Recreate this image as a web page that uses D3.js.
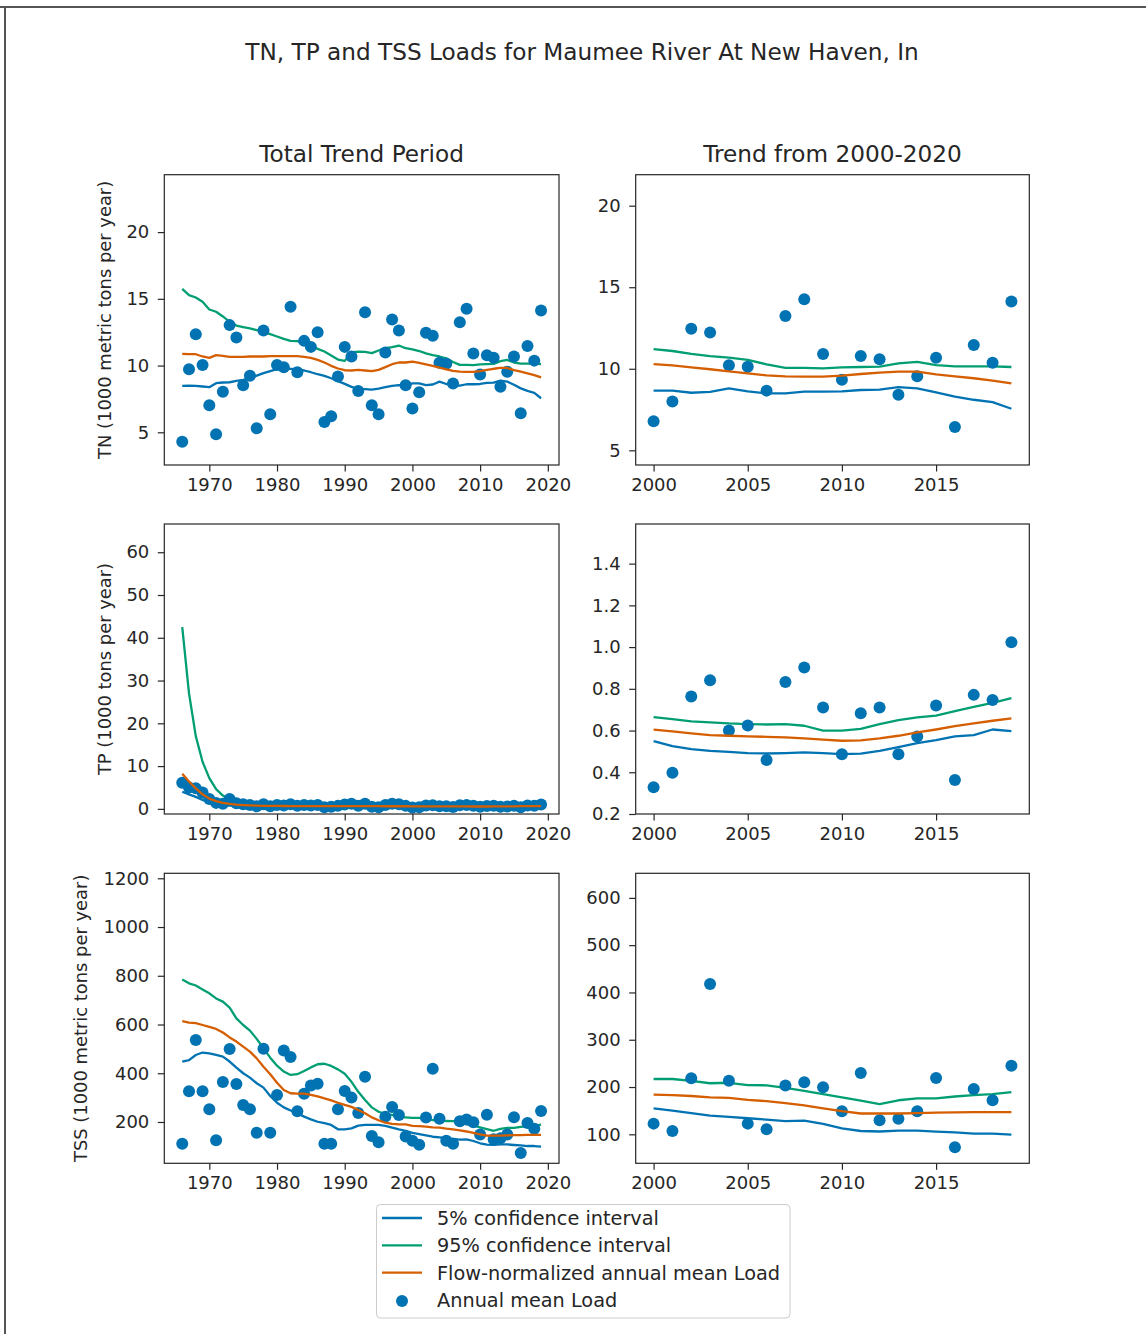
<!DOCTYPE html>
<html>
<head>
<meta charset="utf-8">
<script src="https://cdn.jsdelivr.net/npm/d3@7"></script>
<style>
  body { margin: 0; background: #fff; }
  svg { display: block; }
  text { font-family: "DejaVu Sans", sans-serif; fill: #262626; }
</style>
</head>
<body>
<svg id="chart" width="1146" height="1334"></svg>
<script>
// ---- Data: annual values, Maumee River at New Haven, IN ----
const years = [1966, 1967, 1968, 1969, 1970, 1971, 1972, 1973, 1974, 1975, 1976, 1977, 1978, 1979,
  1980, 1981, 1982, 1983, 1984, 1985, 1986, 1987, 1988, 1989, 1990, 1991, 1992, 1993, 1994, 1995,
  1996, 1997, 1998, 1999, 2000, 2001, 2002, 2003, 2004, 2005, 2006, 2007, 2008, 2009, 2010, 2011,
  2012, 2013, 2014, 2015, 2016, 2017, 2018, 2019];

// TN, 1000 metric tons per year
const tnAnnual = [4.3, 9.73, 12.35, 10.05, 7.03, 4.85, 8.03, 13.03, 12.1, 8.53, 9.23, 5.3, 12.63, 6.35,
  10.05, 9.88, 14.4, 9.5, 11.85, 11.4, 12.5, 5.78, 6.2, 9.18, 11.4, 10.68, 8.1, 14.0, 7.03, 6.35,
  10.98, 13.45, 12.63, 8.53, 6.78, 8.0, 12.46, 12.23, 10.21, 10.13, 8.66, 13.24, 14.26, 10.9, 9.33, 10.78,
  10.58, 8.41, 9.54, 10.68, 6.43, 11.46, 10.37, 14.13];
const tnLow = [8.48, 8.5, 8.48, 8.43, 8.38, 8.68, 8.73, 8.75, 8.85, 8.93, 9.05, 9.25, 9.43, 9.58,
  9.73, 9.75, 9.75, 9.73, 9.63, 9.5, 9.35, 9.23, 9.05, 8.83, 8.63, 8.4, 8.25, 8.23, 8.2, 8.28,
  8.38, 8.48, 8.53, 8.5, 8.66, 8.66, 8.53, 8.58, 8.8, 8.62, 8.49, 8.49, 8.6, 8.6, 8.62, 8.7,
  8.72, 8.88, 8.8, 8.56, 8.29, 8.1, 7.96, 7.55];
const tnHigh = [15.75, 15.28, 15.1, 14.78, 14.2, 14.03, 13.68, 13.28, 13.0, 12.88, 12.78, 12.65, 12.5, 12.35,
  12.18, 12.0, 11.85, 11.83, 11.68, 11.5, 11.25, 11.05, 10.75, 10.45, 10.35, 10.98, 11.05, 11.03, 10.93, 11.13,
  11.3, 11.38, 11.5, 11.3, 11.21, 11.09, 10.91, 10.78, 10.68, 10.54, 10.27, 10.05, 10.05, 10.03, 10.09, 10.11,
  10.13, 10.33, 10.42, 10.23, 10.15, 10.15, 10.15, 10.11];
const tnFlowNorm = [10.88, 10.85, 10.85, 10.68, 10.58, 10.78, 10.73, 10.65, 10.65, 10.65, 10.68, 10.68, 10.68, 10.7,
  10.7, 10.7, 10.7, 10.7, 10.65, 10.58, 10.43, 10.23, 9.98, 9.78, 9.65, 9.63, 9.68, 9.63, 9.58, 9.68,
  9.88, 10.1, 10.23, 10.23, 10.29, 10.21, 10.09, 9.97, 9.84, 9.72, 9.6, 9.54, 9.52, 9.52, 9.58, 9.68,
  9.76, 9.82, 9.82, 9.66, 9.54, 9.42, 9.28, 9.11];

// TP, 1000 tons per year
const tpAnnual = [6.1, 5.0, 4.8, 3.8, 2.3, 1.4, 1.2, 2.3, 1.3, 1.1, 0.9, 0.6, 1.1, 0.6,
  0.9, 0.8, 1.1, 0.7, 0.9, 0.8, 0.9, 0.4, 0.5, 0.7, 1.0, 1.2, 0.7, 1.2, 0.5, 0.4,
  0.9, 1.2, 1.1, 0.7, 0.328, 0.398, 0.763, 0.841, 0.60, 0.624, 0.459, 0.833, 0.902, 0.711, 0.486, 0.683,
  0.711, 0.486, 0.572, 0.72, 0.363, 0.771, 0.746, 1.023];
const tpLow = [4.0, 3.4, 2.8, 2.1, 1.5, 1.1, 0.9, 0.75, 0.68, 0.62, 0.6, 0.58, 0.58, 0.57,
  0.57, 0.57, 0.56, 0.56, 0.56, 0.56, 0.56, 0.55, 0.55, 0.55, 0.55, 0.55, 0.55, 0.55, 0.55, 0.55,
  0.55, 0.55, 0.55, 0.55, 0.549, 0.525, 0.511, 0.503, 0.498, 0.492, 0.49, 0.492, 0.495, 0.492, 0.487, 0.489,
  0.503, 0.521, 0.54, 0.554, 0.572, 0.578, 0.605, 0.597];
const tpHigh = [42.5, 27.0, 17.0, 11.0, 7.2, 4.6, 3.1, 2.2, 1.6, 1.25, 1.05, 0.92, 0.85, 0.8,
  0.77, 0.75, 0.74, 0.73, 0.72, 0.72, 0.71, 0.71, 0.7, 0.7, 0.7, 0.69, 0.69, 0.69, 0.68, 0.68,
  0.68, 0.68, 0.67, 0.67, 0.664, 0.655, 0.644, 0.639, 0.634, 0.631, 0.629, 0.631, 0.623, 0.6, 0.6, 0.608,
  0.631, 0.65, 0.663, 0.672, 0.693, 0.714, 0.733, 0.755];
const tpFlowNorm = [8.2, 6.4, 4.8, 3.4, 2.4, 1.8, 1.4, 1.15, 0.98, 0.88, 0.8, 0.75, 0.72, 0.7,
  0.68, 0.67, 0.66, 0.65, 0.65, 0.64, 0.64, 0.63, 0.63, 0.63, 0.62, 0.62, 0.62, 0.62, 0.62, 0.62,
  0.61, 0.61, 0.61, 0.61, 0.604, 0.596, 0.586, 0.578, 0.575, 0.572, 0.57, 0.567, 0.562, 0.556, 0.551, 0.553,
  0.562, 0.575, 0.591, 0.605, 0.621, 0.634, 0.647, 0.658];

// TSS, 1000 metric tons per year
const tssAnnual = [111, 326, 536, 326, 252, 125, 364, 500, 356, 270, 252, 156, 501, 156,
  311, 493, 467, 244, 316, 350, 357, 111, 111, 252, 327, 300, 237, 386, 143, 117,
  222, 262, 229, 140, 122.6, 107, 218.5, 418, 213.5, 122.6, 110.6, 203, 210, 199.4, 148.7, 229.8,
  129.6, 133, 148.7, 219, 72.5, 196, 172, 245];
const tssLow = [448, 454, 475, 485, 482, 475, 468, 448, 423, 400, 382, 359, 341, 307,
  279, 260, 247, 236, 222, 211, 201, 195, 188, 170, 170, 174, 185, 188, 188, 188,
  184, 177, 170, 164, 155, 150, 145, 139.5, 136.7, 134, 131, 128, 129, 122, 112.7, 107,
  106, 107.8, 107.8, 105.6, 104, 101.4, 101.4, 99.3];
const tssHigh = [785, 769, 760, 744, 728, 707, 694, 669, 625, 598, 575, 541, 502, 464,
  431, 407, 393, 396, 409, 424, 437, 439, 430, 416, 398, 365, 324, 290, 260, 242,
  233, 229, 219, 219, 217, 217, 213, 208, 209, 204, 203.7, 198, 191.7, 185, 178, 171,
  164, 172, 176, 176, 180, 183, 185, 189];
const tssFlowNorm = [614, 608, 606, 598, 590, 582, 567, 547, 530, 509, 489, 461, 427, 396,
  361, 331, 318, 316, 316, 311, 305, 297, 289, 279, 270, 262, 249, 236, 219, 207,
  197, 192, 190, 190, 184, 183, 181, 178, 177, 173, 170, 166, 161, 155, 149, 144,
  144, 144, 145, 146, 146.5, 147, 147, 147];

// Tick values
const xTicksTotal = [1970, 1980, 1990, 2000, 2010, 2020];
const xTicksRecent = [2000, 2005, 2010, 2015];
const tnTicksTotal = [5, 10, 15, 20];
const tnTicksRecent = [5, 10, 15, 20];
const tpTicksTotal = [0, 10, 20, 30, 40, 50, 60];
const tpTicksRecent = [0.2, 0.4, 0.6, 0.8, 1.0, 1.2, 1.4];
const tssTicksTotal = [200, 400, 600, 800, 1000, 1200];
const tssTicksRecent = [100, 200, 300, 400, 500, 600];

// Text
const figureTitle = "TN, TP and TSS Loads for Maumee River At New Haven, In";
const columnTitles = ["Total Trend Period", "Trend from 2000-2020"];
const yLabels = ["TN (1000 metric tons per year)", "TP (1000 tons per year)", "TSS (1000 metric tons per year)"];
const legendLabels = ["5% confidence interval", "95% confidence interval", "Flow-normalized annual mean Load", "Annual mean Load"];
const recentStart = 2000;

// ---- Styling / layout ----
const C_BLUE = "#0173b2", C_GREEN = "#029e73", C_ORANGE = "#d55e00";
const FS_TICK = 18, FS_LABEL = 17.9, FS_TITLE = 23.2, FS_LEGEND = 19.3;
const colX = [[164.3, 559], [635.7, 1029.3]];
const rowY = [[174.7, 465], [524, 814], [873.3, 1163.3]];
const yLabelX = [105, 105, 81];

const constituents = [
  { annual: tnAnnual, low: tnLow, high: tnHigh, mid: tnFlowNorm,
    ticks: [tnTicksTotal, tnTicksRecent], ydom: [[2.55, 24.3], [4.1, 21.9]], fmt: [d3.format("d"), d3.format("d")] },
  { annual: tpAnnual, low: tpLow, high: tpHigh, mid: tpFlowNorm,
    ticks: [tpTicksTotal, tpTicksRecent], ydom: [[-1.2, 66.6], [0.2, 1.59]], fmt: [d3.format("d"), d3.format(".1f")] },
  { annual: tssAnnual, low: tssLow, high: tssHigh, mid: tssFlowNorm,
    ticks: [tssTicksTotal, tssTicksRecent], ydom: [[30.5, 1220.5], [38.7, 652]], fmt: [d3.format("d"), d3.format("d")] }
];

const svg = d3.select("#chart");

// Outer frame (top and left edges)
svg.append("line").attr("x1", 0).attr("x2", 1146).attr("y1", 7).attr("y2", 7)
  .attr("stroke", "#555").attr("stroke-width", 2);
svg.append("line").attr("x1", 5).attr("x2", 5).attr("y1", 6).attr("y2", 1334)
  .attr("stroke", "#555").attr("stroke-width", 2);

svg.append("text").attr("x", 582).attr("y", 60).attr("text-anchor", "middle")
  .attr("font-size", FS_TITLE).text(figureTitle);

columnTitles.forEach((t, c) => {
  svg.append("text").attr("x", (colX[c][0] + colX[c][1]) / 2).attr("y", 162)
    .attr("text-anchor", "middle").attr("font-size", FS_TITLE).text(t);
});

constituents.forEach((k, r) => {
  [0, 1].forEach(c => {
    const [x0, x1] = colX[c], [y0, y1] = rowY[r];
    const rows = years.map((yr, i) => ({ yr, a: k.annual[i], lo: k.low[i], hi: k.high[i], mid: k.mid[i] }))
      .filter(d => c === 0 || d.yr >= recentStart);
    const ext = d3.extent(rows, d => d.yr);
    const pad = (ext[1] - ext[0]) * 0.05;
    const x = d3.scaleLinear().domain([ext[0] - pad, ext[1] + pad]).range([x0, x1]);
    const y = d3.scaleLinear().domain(k.ydom[c]).range([y1, y0]);

    const g = svg.append("g");
    const clipId = `clip-${r}-${c}`;
    g.append("clipPath").attr("id", clipId).append("rect")
      .attr("x", x0).attr("y", y0).attr("width", x1 - x0).attr("height", y1 - y0);
    const plot = g.append("g").attr("clip-path", `url(#${clipId})`);

    const line = acc => d3.line().x(d => x(d.yr)).y(d => y(acc(d)));
    plot.append("path").datum(rows).attr("d", line(d => d.lo)).attr("fill", "none")
      .attr("stroke", C_BLUE).attr("stroke-width", 2.3).attr("stroke-linejoin", "round");
    plot.append("path").datum(rows).attr("d", line(d => d.hi)).attr("fill", "none")
      .attr("stroke", C_GREEN).attr("stroke-width", 2.3).attr("stroke-linejoin", "round");
    plot.selectAll("circle").data(rows).join("circle")
      .attr("cx", d => x(d.yr)).attr("cy", d => y(d.a)).attr("r", 6).attr("fill", C_BLUE);
    plot.append("path").datum(rows).attr("d", line(d => d.mid)).attr("fill", "none")
      .attr("stroke", C_ORANGE).attr("stroke-width", 2.3).attr("stroke-linejoin", "round");

    // axes
    const ax = g.append("g").attr("transform", `translate(0,${y1})`)
      .call(d3.axisBottom(x).tickValues(c === 0 ? xTicksTotal : xTicksRecent)
        .tickFormat(d3.format("d")).tickSize(6.5).tickPadding(6.5));
    const ay = g.append("g").attr("transform", `translate(${x0},0)`)
      .call(d3.axisLeft(y).tickValues(k.ticks[c]).tickFormat(k.fmt[c]).tickSize(6.5).tickPadding(8.5));
    [ax, ay].forEach(a => {
      a.select(".domain").remove();
      a.selectAll(".tick line").attr("stroke", "#262626").attr("stroke-width", 1.2);
      a.selectAll(".tick text").attr("font-size", FS_TICK).attr("font-family", "DejaVu Sans").attr("fill", "#262626");
    });
    g.append("rect").attr("x", x0).attr("y", y0).attr("width", x1 - x0).attr("height", y1 - y0)
      .attr("fill", "none").attr("stroke", "#262626").attr("stroke-width", 1.2);

    if (c === 0) {
      const cy = (y0 + y1) / 2;
      svg.append("text").attr("transform", `translate(${yLabelX[r]},${cy}) rotate(-90)`)
        .attr("text-anchor", "middle").attr("dy", "0.35em").attr("font-size", FS_LABEL).text(yLabels[r]);
    }
  });
});

// Legend
const lg = svg.append("g");
lg.append("rect").attr("x", 376.5).attr("y", 1204.5).attr("width", 413.5).attr("height", 113.5)
  .attr("rx", 4).attr("fill", "#fff").attr("stroke", "#cccccc").attr("stroke-width", 1);
const legendColors = [C_BLUE, C_GREEN, C_ORANGE, C_BLUE];
legendLabels.forEach((t, i) => {
  const cy = 1218 + i * 27.3;
  if (i < 3) {
    lg.append("line").attr("x1", 382).attr("x2", 422).attr("y1", cy).attr("y2", cy)
      .attr("stroke", legendColors[i]).attr("stroke-width", 2.3);
  } else {
    lg.append("circle").attr("cx", 402).attr("cy", cy + 1).attr("r", 6).attr("fill", legendColors[i]);
  }
  lg.append("text").attr("x", 437).attr("y", cy).attr("dy", "0.36em").attr("font-size", FS_LEGEND).text(t);
});
</script>
</body>
</html>
